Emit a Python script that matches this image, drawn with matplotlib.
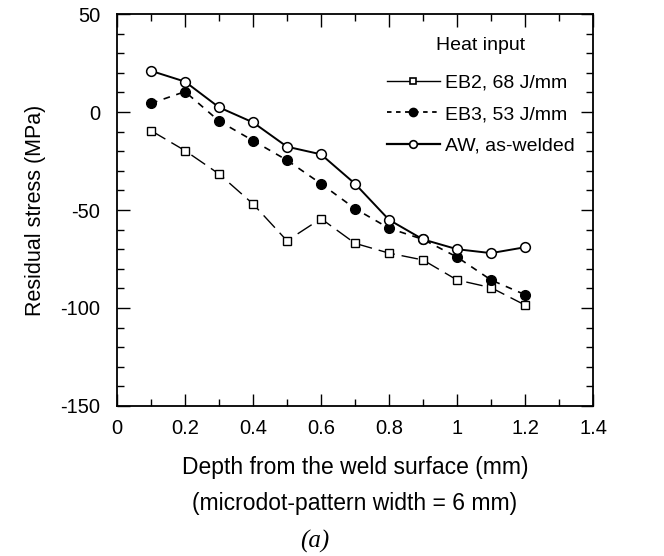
import matplotlib
matplotlib.use("Agg")
import matplotlib.pyplot as plt
from matplotlib.ticker import MultipleLocator
from matplotlib.lines import Line2D

plt.rcParams['font.family'] = ['Liberation Sans', 'DejaVu Sans']
plt.rcParams['axes.unicode_minus'] = False

depth = [0.1, 0.2, 0.3, 0.4, 0.5, 0.6, 0.7, 0.8, 0.9, 1.0, 1.1, 1.2]
eb2 = [-9.5, -19.7, -31.6, -46.9, -65.7, -54.4, -67, -72, -75.5, -85.7, -89.6, -98.5]
eb3 = [4.4, 10.4, -4.6, -14.6, -24.6, -36.6, -49.3, -59.3, -65, -74, -85.7, -93.2]
aw = [21, 15.5, 2.4, -5.3, -17.7, -21.6, -36.6, -55, -65, -70, -72, -69]
labels = ["EB2, 68 J/mm", "EB3, 53 J/mm", "AW, as-welded"]
xtick_vals = [0, 0.2, 0.4, 0.6, 0.8, 1.0, 1.2, 1.4]
xtick_labels = ['0', '0.2', '0.4', '0.6', '0.8', '1', '1.2', '1.4']

fig = plt.figure(figsize=(6.64, 5.56), dpi=100)
ax = fig.add_axes([0.1762, 0.2698, 0.7169, 0.7050])

ax.plot(depth, eb2, color='black', lw=1.0, linestyle=(0, (12, 5)),
        marker='s', markersize=5.5, markerfacecolor='white', markeredgecolor='black',
        markeredgewidth=1.0)
ax.plot(depth, eb3, color='black', lw=1.2, linestyle=(0, (4, 4)),
        marker='o', markersize=7, markerfacecolor='black', markeredgecolor='black')
ax.plot(depth, aw, color='black', lw=1.4, linestyle='-',
        marker='o', markersize=7, markerfacecolor='white', markeredgecolor='black',
        markeredgewidth=1.1)

ax.set_xlim(0, 1.4)
ax.set_ylim(-150, 50)
ax.xaxis.set_minor_locator(MultipleLocator(0.1))
ax.yaxis.set_major_locator(MultipleLocator(50))
ax.yaxis.set_minor_locator(MultipleLocator(10))
ax.set_xticks(xtick_vals)
ax.set_xticklabels(xtick_labels)
ax.tick_params(which='both', direction='in', top=True, right=True, width=1.0)
ax.tick_params(which='major', length=9, labelsize=14.5)
ax.tick_params(axis='y', which='major', pad=12)
ax.tick_params(axis='x', which='major', pad=9.5)
ax.tick_params(which='minor', length=5)
for s in ax.spines.values():
    s.set_linewidth(1.3)

ax.set_ylabel("Residual stress (MPa)", fontsize=15.5, labelpad=10)
ax.set_xlabel("Depth from the weld surface (mm)\n(microdot-pattern width = 6 mm)",
              fontsize=16.5, labelpad=13, linespacing=1.7)

handles = [
    Line2D([], [], color='black', lw=1.0, linestyle='-', marker='s', markersize=4.5,
           markerfacecolor='white', markeredgecolor='black', markeredgewidth=1.2),
    Line2D([], [], color='black', lw=1.3, linestyle=(0, (2.5, 2.5)), marker='o', markersize=6,
           markerfacecolor='black', markeredgecolor='black'),
    Line2D([], [], color='black', lw=1.6, linestyle='-', marker='o', markersize=5.5,
           markerfacecolor='white', markeredgecolor='black', markeredgewidth=1.2),
]
leg = ax.legend(handles, labels, title="Heat input", loc='upper right', frameon=False,
                fontsize=14, title_fontsize=14, handlelength=2.75,
                handletextpad=0.25, labelspacing=0.72, borderaxespad=0.3,
                bbox_to_anchor=(0.99, 0.975))
leg._legend_box.sep = 14 * 0.72 + 4

fig.text(0.474, 0.026, "(a)", fontsize=18, style='italic',
         family=['Liberation Serif', 'DejaVu Serif'], ha='center', va='center')

fig.savefig("out.png", dpi=100)
